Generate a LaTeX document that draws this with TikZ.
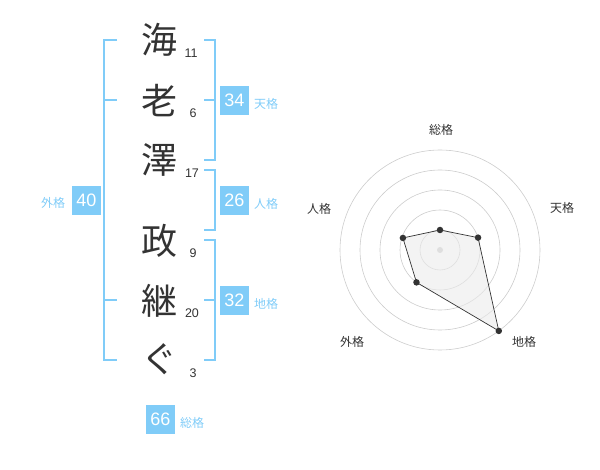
\documentclass[tikz,border=0pt]{standalone}
\usepackage{fontspec}
\setmainfont{Liberation Sans}
\newfontfamily\jp{Noto Sans CJK JP}
\definecolor{kakuiro}{HTML}{80CCF8}
\definecolor{sumi}{HTML}{333333}
\definecolor{usuzumi}{HTML}{CCCCCC}

\begin{document}
\begin{tikzpicture}[x=1pt,y=-1pt,
  moji/.style={text=sumi,inner sep=0pt,font=\jp\fontsize{36}{36}\selectfont},
  kakusu/.style={text=sumi,inner sep=0pt,font=\fontsize{12.5}{12.5}\selectfont},
  kakubox/.style={fill=kakuiro,text=white,minimum size=29pt,inner sep=0pt,font=\fontsize{18}{18}\selectfont},
  kakumei/.style={text=kakuiro,inner sep=0pt,font=\jp\fontsize{12}{12}\selectfont},
  waku/.style={draw=kakuiro,line width=2pt},
  ring/.style={draw=usuzumi,line width=0.6pt},
  ten/.style={circle,fill=sumi,minimum size=6.5pt,inner sep=0pt},
  jiku/.style={text=sumi,inner sep=0pt,font=\jp\fontsize{12}{12}\selectfont}]
\useasboundingbox (0,0) rectangle (600,470);

% name
\node[moji] (c1) at (159,40) {海};
\node[moji] (c2) at (159,101) {老};
\node[moji] (c3) at (159,160) {澤};
\node[moji] (c4) at (159,241) {政};
\node[moji] (c5) at (159,301) {継};
\node[moji] (c6) at (159,359) {ぐ};

\node[kakusu] (s1) at (191,53) {11};
\node[kakusu] (s2) at (193,113) {6};
\node[kakusu] (s3) at (192,173) {17};
\node[kakusu] (s4) at (193,253) {9};
\node[kakusu] (s5) at (192,313) {20};
\node[kakusu] (s6) at (193,373) {3};

% brackets
\draw[waku] (117,40) -- (104,40) -- (104,360) -- (117,360);
\draw[waku] (104,100) -- (117,100);
\draw[waku] (104,300) -- (117,300);
\draw[waku] (204,40) -- (215,40) -- (215,160) -- (204,160);
\draw[waku] (204,100) -- (215,100);
\draw[waku] (204,170) -- (215,170) -- (215,230) -- (204,230);
\draw[waku] (204,240) -- (215,240) -- (215,360) -- (204,360);
\draw[waku] (204,300) -- (215,300);

% totals
\node[kakubox] (ten-b) at (234.5,100.5) {34};
\node[kakumei] (ten-l) at (266,104) {天格};
\node[kakubox] (jin-b) at (234.5,200.5) {26};
\node[kakumei] (jin-l) at (266,204) {人格};
\node[kakubox] (chi-b) at (234.5,300.5) {32};
\node[kakumei] (chi-l) at (266,304) {地格};
\node[kakubox] (gai-b) at (86.5,200.5) {40};
\node[kakumei] (gai-l) at (53,203) {外格};
\node[kakubox] (sou-b) at (160.5,419.5) {66};
\node[kakumei] (sou-l) at (192,423) {総格};

% radar
\begin{scope}[shift={(440,250)},y=1pt]
\draw[ring] (0,0) circle (20pt);
\draw[ring] (0,0) circle (40pt);
\draw[ring] (0,0) circle (60pt);
\draw[ring] (0,0) circle (80pt);
\draw[ring] (0,0) circle (100pt);
\node[circle,fill=usuzumi,minimum size=6pt,inner sep=0pt] (o) at (0,0) {};

\coordinate (a1) at (90:20);
\coordinate (a2) at (18:40);
\coordinate (a3) at (-54:100);
\coordinate (a4) at (-126:40);
\coordinate (a5) at (162:39);
\draw[sumi,line width=0.7pt,fill=black!8,fill opacity=0.6] (a1) -- (a2) -- (a3) -- (a4) -- (a5) -- cycle;
\node[ten] (sou) at (a1) {};
\node[ten] (ten) at (a2) {};
\node[ten] (chi) at (a3) {};
\node[ten] (gai) at (a4) {};
\node[ten] (jin) at (a5) {};

\node[jiku] (sou-j) at (1,120) {総格};
\node[jiku] (ten-j) at (122,42) {天格};
\node[jiku] (chi-j) at (84,-92) {地格};
\node[jiku] (gai-j) at (-88,-92) {外格};
\node[jiku] (jin-j) at (-121,41) {人格};
\end{scope}
\end{tikzpicture}
\end{document}
